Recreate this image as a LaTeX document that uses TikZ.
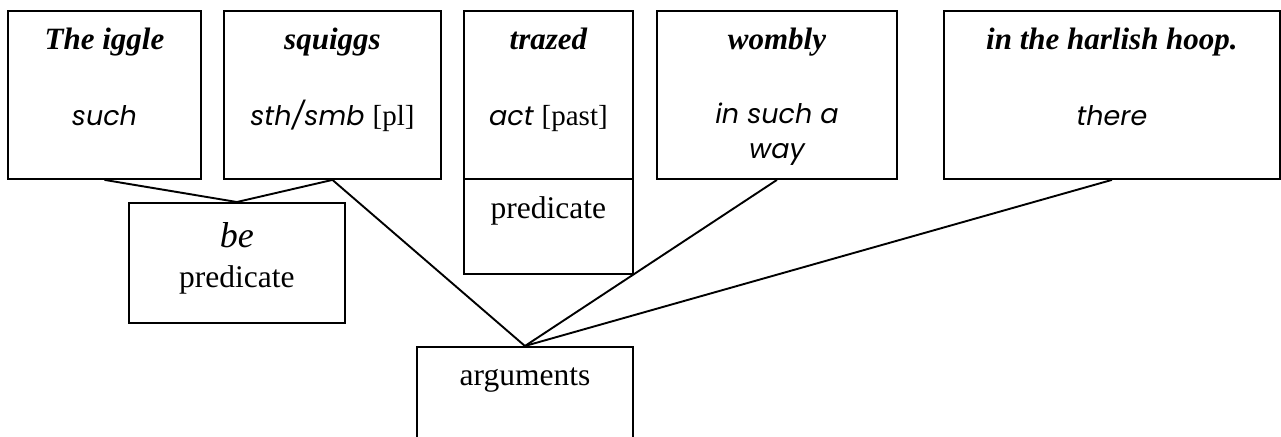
\documentclass[tikz,border=0pt]{standalone}
\usepackage{fontspec}
\usetikzlibrary{calc}
\setmainfont{Liberation Serif}
\newfontfamily\gothic{Poppins}
% grammatical tag after a gloss, in upright serif
\newcommand\gramtag[1]{{\rmfamily\upshape\fontsize{29}{34}\selectfont #1}}
\begin{document}
\begin{tikzpicture}[x=1pt,y=-1pt,
  box/.style={draw, line width=1.9pt, inner sep=0pt, anchor=north west},
  head/.style={anchor=base, inner sep=0pt, font=\fontsize{31}{34}\selectfont\bfseries\itshape},
  gloss/.style={anchor=base, inner sep=0pt, align=center, font=\fontsize{27}{35}\selectfont\gothic\itshape},
  plain/.style={anchor=base, inner sep=0pt, align=center, font=\fontsize{31.5}{40}\selectfont},
  link/.style={line width=1.9pt}]
\clip (0,0) rectangle (1281,436);

% word boxes along the top
\node[box, minimum width=193pt, minimum height=168pt] (iggle) at (7,10) {};
\node[box, minimum width=217pt, minimum height=168pt] (squiggs) at (223,10) {};
\node[box, minimum width=169pt, minimum height=168pt] (trazed) at (463,10) {};
\node[box, minimum width=240pt, minimum height=168pt] (wombly) at (656,10) {};
\node[box, minimum width=336pt, minimum height=168pt] (hoop) at (943,10) {};

% role boxes
\node[box, minimum width=169pt, minimum height=95pt] (trpred) at (463,178) {};
\node[box, minimum width=216pt, minimum height=120pt] (be) at (128,202) {};
\node[box, minimum width=216pt, minimum height=150pt] (args) at (416,346) {};

% headwords
\node[head] (t1) at ($(iggle.north)+(0,40)$) {The iggle};
\node[head] (t2) at ($(squiggs.north)+(0,40)$) {squiggs};
\node[head] (t3) at ($(trazed.north)+(0,40)$) {trazed};
\node[head] (t4) at ($(wombly.north)+(0,40)$) {wombly};
\node[head] (t5) at ($(hoop.north)+(0,40)$) {in the harlish hoop.};

% glosses
\node[gloss] (g1) at ($(iggle.north)+(0,115)$) {such};
\node[gloss] (g2) at ($(squiggs.north)+(0,115)$) {sth/smb \gramtag{[pl]}};
\node[gloss] (g3) at ($(trazed.north)+(0,115)$) {act \gramtag{[past]}};
% the base anchor of a two-line node sits on its last line
\node[gloss] (g4) at ($(wombly.north)+(0,148)$) {in such a\\way};
\node[gloss] (g5) at ($(hoop.north)+(0,115)$) {there};

% role labels
\node[plain] (p1) at ($(trpred.north)+(0,40)$) {predicate};
\node[anchor=base, inner sep=0pt, font=\fontsize{36}{40}\selectfont\itshape] (bew) at ($(be.north)+(0,45)$) {be};
\node[plain] (p2) at ($(be.north)+(0,85)$) {predicate};
\node[plain] (p3) at ($(args.north)+(0,39)$) {arguments};

% connectors
\draw[link] (iggle.south) -- (be.north) -- (squiggs.south);
\draw[link] (squiggs.south) -- (args.north);
\draw[link] (wombly.south) -- (args.north);
\draw[link] (hoop.south) -- (args.north);
\end{tikzpicture}
\end{document}
